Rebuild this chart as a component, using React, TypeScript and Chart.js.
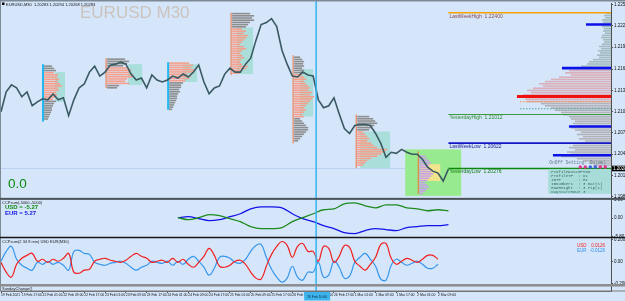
import React, { useEffect, useRef } from "react";
import { Chart, registerables } from "chart.js";

Chart.register(...registerables);

// ---------------- time axis (M30 bars, one label every 16 bars) ----------------
const TIME_LABELS = [
  "19 Feb 2021", "19 Feb 17:00", "22 Feb 01:00", "22 Feb 09:00", "22 Feb 17:00",
  "23 Feb 01:00", "23 Feb 09:00", "23 Feb 17:00", "24 Feb 01:00", "24 Feb 09:00",
  "24 Feb 17:00", "25 Feb 01:00", "25 Feb 09:00", "25 Feb 17:00", "26 Feb 01:00",
  "26 Feb 09:00", "26 Feb 17:00", "1 Mar 01:00", "1 Mar 09:00", "1 Mar 17:00",
  "2 Mar 01:00", "2 Mar 09:00",
];
const BARS_PER_LABEL = 16;
const TOTAL_BARS = 469;
const CURSOR_BAR = 242.3;
const CURSOR_LABEL = "26 Feb 10:00";

// ---------------- EURUSD closes (one every 4 bars) ----------------
const PRICE_STEP_BARS = 4;
const CLOSES = [
  1.2105, 1.2132, 1.21415, 1.21374, 1.21253, 1.2132, 1.21131, 1.21185, 1.21226, 1.21212,
  1.21293, 1.21212, 1.21239, 1.20996, 1.21212, 1.21374, 1.21428, 1.2159, 1.21671, 1.21536,
  1.2159, 1.21685, 1.21698, 1.21725, 1.21698, 1.21563, 1.21482, 1.21509, 1.21374, 1.2155,
  1.21482, 1.21455, 1.21482, 1.21536, 1.21509, 1.21563, 1.21523, 1.2159, 1.21685, 1.21455,
  1.21293, 1.21374, 1.21401, 1.21563, 1.21644, 1.2159, 1.2159, 1.21698, 1.21779, 1.22022,
  1.22238, 1.22265, 1.22319, 1.22211, 1.21887, 1.21698, 1.21536, 1.21523, 1.2159, 1.2155,
  1.21536, 1.21212, 1.21104, 1.21131, 1.21239, 1.21023, 1.2082, 1.20753, 1.20861, 1.20875,
  1.20875, 1.20861, 1.20753, 1.20618, 1.20429, 1.20497, 1.20483, 1.20537, 1.20497, 1.2047,
  1.2047, 1.20402, 1.20294, 1.2024, 1.20213, 1.20105, 1.20267,
];
const PRICE_MIN = 1.19862;
const PRICE_MAX = 1.22522;
const PRICE_TICKS = [
  1.2251, 1.2236, 1.2222, 1.2207, 1.2193, 1.2178, 1.2163, 1.2149, 1.2134, 1.212,
  1.2105, 1.2091, 1.2076, 1.2061, 1.2047, 1.2032, 1.2018, 1.2003, 1.1989,
];
const CURRENT_PRICE = 1.20276;
const CURRENT_LABEL = "1.2028";
const HEADER = "EURUSD,M30  1.20283 1.20294 1.20268 1.20283";

// ---------------- key levels ----------------
const LEVEL_NAMES = ["LastWeekHigh", "YesterdayHigh", "LastWeekLow", "YesterdayLow"];
const LEVEL_PRICES = [1.224, 1.21012, 1.20622, 1.20276];
const LEVEL_START_BAR = 344;

// ---------------- right-hand volume profile (rows of 0.0003) ----------------
const ROW_STEP = 0.0003;
const PROFILE_TOP = 1.2239;
const PROFILE_VOLS = [
  5, 7, 6, 9, 8, 12, 9, 7, 8, 6, 9, 10, 8, 7, 9, 12, 10, 13, 11, 14,
  12, 18, 22, 24, 30, 40, 42, 46, 40, 52, 60, 66, 72, 68, 78, 84, 80, 88, 94, 86,
  84, 70, 66, 60, 56, 50, 48, 42, 40, 36, 38, 34, 40, 36, 30, 34, 28, 32, 26, 30,
  38, 42, 36, 44, 40, 50, 34, 28, 22, 18,
];
const PROFILE_VA = [25, 40];
const PROFILE_POC_PRICE = 1.21257;
const PROFILE_POC_VOL = 94;
const PROFILE_HVN_PRICES = [1.22238, 1.21644, 1.20848, 1.20456];
const PROFILE_HVN_VOLS = [25, 49, 42, 58];
const PROFILE_VAH = 1.21185;
const PROFILE_VAL = 1.2109;
const PROFILE_VA_LINE_VOL = 91;

// ---------------- daily profiles ----------------
const DAY_BARS = [32.3, 80.8, 128.5, 176.9, 224.6, 273.1, 320.8];
const DAY_LINE_TOPS = [1.21698, 1.21779, 1.21725, 1.224, 1.2182, 1.2101, 1.2051];
const DAY_LINE_BOTTOMS = [1.20915, 1.21374, 1.21077, 1.2155, 1.20618, 1.20281, 1.1993];
const DAY_ROW_TOPS = [1.21671, 1.21766, 1.21712, 1.22387, 1.21793, 1.20983, 1.20443];
const DAY_VOLS = [
  [8, 10, 12, 10, 14, 13, 15, 14, 16, 18, 14, 15, 12, 13, 11, 9, 12, 10, 9, 8, 8, 7, 6, 5, 4],
  [18, 22, 20, 16, 20, 24, 22, 26, 25, 20, 18, 22, 12, 10],
  [20, 24, 22, 26, 25, 18, 22, 20, 16, 14, 12, 12, 10, 11, 9, 8, 8, 7, 6, 5, 4, 3],
  [18, 22, 20, 22, 18, 16, 14, 10, 14, 12, 16, 14, 12, 10, 8, 12, 14, 10, 8, 10, 12, 9, 8, 10, 16, 14, 10, 8],
  [6, 8, 10, 9, 10, 8, 10, 9, 8, 10, 12, 10, 12, 14, 16, 14, 18, 16, 20, 18, 16, 14, 12, 10, 12, 10, 8, 10, 6, 8, 10, 12, 14, 14, 12, 10, 8, 6, 4],
  [12, 16, 18, 20, 17, 14, 12, 6, 8, 10, 12, 10, 14, 16, 20, 30, 28, 24, 20, 14, 10, 8, 6],
  [6, 8, 10, 12, 10, 8, 10, 12, 14, 12, 10, 8, 6, 8, 10, 8, 6, 4],
];
const DAY_VA = [[3, 15], [4, 11], [0, 8], [7, 27], [8, 27], [7, 22], [0, 17]];
const DAY_BOX_BARS = [[41.5, 49.2], [97.7, 108.5], [140, 150.8], [181.5, 193.8], [230, 240], [276.2, 299.2], [322.3, 337.7]];
const DAY_BOX_PRICES = [[1.2159, 1.21185], [1.21698, 1.21414], [1.21698, 1.21455], [1.22198, 1.21563], [1.21631, 1.20983], [1.2078, 1.20281], [1.20335, 1.20105]];
const GREEN_BOX_BARS = [310.8, 353.8];
const GREEN_BOX_PRICES = [1.20537, 1.19903];

// ---------------- info panel ----------------
const INFO_BAR = 420.8;
const INFO_TOP = 1.2027;
const INFO_BOTTOM = 1.1993;
const INFO_KEYS = ["ProfileDataTF", "ProfileTF", "IBTF", "IBNumbers", "RowHeight", "DayStartHour"];
const INFO_VALUES = ["M30", "D1", "H1", "3 Bar(s)", "3 Pip(s)", "3"];
const ONOFF_TEXT = "OnOff Setting: On(mm)";

// ---------------- CCP currency strength (one every 8 bars from bar 136) ----------------
const CCP_START_BAR = 136;
const CCP_STEP_BARS = 8;
const CCP_USD = [0.15, -0.46, 0.15, 1.08, 0.77, -0.15, -1.08, -2.62, -3.23, -3.23, -2.92, -1.08, 0.15, 1.38, 2.62, 2.92, 4.46, 4.77, 3.85, 3.23, 4.15, 4.15, 3.23, 2.92, 2.31, 2.62, 2.31];
const CCP_EUR = [0.15, 0.46, -0.15, -0.77, -0.46, 0.46, 1.38, 2.92, 3.54, 3.54, 3.23, 1.38, -0.15, -1.08, -2.31, -3.23, -4.46, -4.77, -3.85, -3.23, -3.54, -3.85, -2.92, -2.62, -2.31, -2.31, -2.0];
const CCP_TICKS = [5.8, 0, -5.8];
const CCP_USD_TEXT = "USD = -5.27";
const CCP_EUR_TEXT = "EUR = 5.27";

// ---------------- oscillator (one every 4 bars) ----------------
const OSC_STEP_BARS = 4;
const OSC_USD = [
  -0.005, -0.095, -0.141, -0.023, 0.032, 0.059, 0.077, 0.005, 0.023, -0.005,
  0.023, 0.005, 0.032, 0.077, -0.095, -0.105, -0.077, -0.068, 0.005, 0.023,
  0.032, 0.014, 0.005, -0.005, 0.014, 0.05, 0.077, 0.05, 0.032, -0.005,
  0.005, 0.014, -0.005, 0.032, -0.005, 0.023, -0.023, -0.05, -0.005, 0.05,
  0.123, 0.059, -0.041, -0.05, -0.032, 0.005, 0.014, -0.023, -0.095, -0.15,
  -0.159, -0.041, 0.068, 0.141, 0.186, 0.15, 0.041, 0.141, 0.168, 0.095,
  0.095, 0.005, 0.141, 0.123, -0.005, 0.05, 0.15, 0.132, 0.005, -0.041,
  -0.077, -0.023, 0.041, 0.159, 0.168, 0.032, -0.023, 0.005, 0.032, 0.014,
  -0.005, 0.023, 0.059, 0.059, 0.023,
];
const OSC_EUR = [
  0.005, 0.095, 0.141, 0.023, -0.032, -0.059, -0.077, -0.005, -0.023, 0.005,
  -0.023, -0.005, -0.032, -0.077, 0.095, 0.105, 0.077, 0.068, -0.005, -0.023,
  -0.032, -0.014, -0.005, 0.005, -0.014, -0.05, -0.077, -0.05, -0.032, 0.005,
  -0.005, -0.014, 0.005, -0.032, 0.005, -0.023, 0.023, 0.05, 0.005, -0.05,
  -0.123, -0.059, 0.041, 0.05, 0.032, -0.005, -0.014, 0.023, 0.095, 0.15,
  0.159, 0.041, -0.068, -0.141, -0.186, -0.15, -0.041, -0.141, -0.168, -0.095,
  -0.095, -0.005, -0.141, -0.123, 0.005, -0.05, -0.15, -0.132, -0.005, 0.041,
  0.077, 0.023, -0.041, -0.159, -0.168, -0.032, 0.023, -0.005, -0.032, -0.014,
  0.005, -0.023, -0.059, -0.059, -0.023,
];
const OSC_TICKS = [0.2, 0, -0.2];
const OSC_LAST_USD = "0.0126";
const OSC_LAST_EUR = "-0.0126";

// ---------------- styles ----------------
const BG = "#d5e6fb";
const SANS = "'Liberation Sans', Arial, sans-serif";
const MONO = "'Liberation Mono', 'DejaVu Sans Mono', monospace";
const VOL_BARS = 1 / 1.3;
const DAY_LINE_COLORS = ["#22b8f0", "#f0703a", "#22b8f0", "#f0703a", "#f0703a", "#f0703a", "#f0703a"];
const DAY_LINE_WIDTHS = [2, 1, 2, 1, 1, 1, 1];
const DAY_VA_COLORS = ["#f5a08c", "#f5a08c", "#f5a08c", "#f5a08c", "#f5a08c", "#f5a08c", "#c6a3e6"];
const DAY_OUT_COLORS = ["#8e8e8e", "#8e8e8e", "#8e8e8e", "#8e8e8e", "#8e8e8e", "#8e8e8e", "#c6a3e6"];
const DAY_BOX_COLORS = ["#a9dedb", "#a9dedb", "#a9dedb", "#a9dedb", "#a9dedb", "#a9dedb", "#f1e48c"];
const LEVEL_COLORS = ["#f5a300", "#3d9b3d", "#1616c8", "#0b870b"];
const LEVEL_WIDTHS = [1.5, 1.2, 1.6, 1.6];
const LEVEL_TEXT_COLORS = ["#8a4a4a", "#2e8b2e", "#1a1a90", "#137a13"];

const hline = (ctx: any, x0: number, x1: number, y: number) => {
  ctx.beginPath();
  ctx.moveTo(x0, y);
  ctx.lineTo(x1, y);
  ctx.stroke();
};
const vline = (ctx: any, x: number, y0: number, y1: number) => {
  ctx.beginPath();
  ctx.moveTo(x, y0);
  ctx.lineTo(x, y1);
  ctx.stroke();
};
const txt = (ctx: any, s: string, x: number, y: number, font: string, color: string, align = "left") => {
  ctx.font = font;
  ctx.fillStyle = color;
  ctx.textAlign = align;
  ctx.textBaseline = "alphabetic";
  ctx.fillText(s, x, y);
};

const overlayPlugin = {
  id: "mt4overlay",
  beforeDraw(chart: any) {
    const { ctx, width, height } = chart;
    ctx.save();
    ctx.fillStyle = BG;
    ctx.fillRect(0, 0, width, height);
    ctx.restore();
  },
  beforeDatasetsDraw(chart: any) {
    const { ctx } = chart;
    const xs = chart.scales.x;
    const ys = chart.scales.yP;
    const X = (v: number) => xs.getPixelForValue(v);
    const Y = (v: number) => ys.getPixelForValue(v);
    ctx.save();
    ctx.beginPath();
    ctx.rect(xs.left, ys.top, xs.right - xs.left, ys.bottom - ys.top);
    ctx.clip();

    // current price line
    ctx.strokeStyle = "#bad2ef";
    ctx.lineWidth = 1;
    hline(ctx, xs.left, xs.right, Math.round(Y(CURRENT_PRICE)) + 0.5);

    // green session box
    ctx.fillStyle = "#98ea8e";
    ctx.fillRect(X(GREEN_BOX_BARS[0]), Y(GREEN_BOX_PRICES[0]), X(GREEN_BOX_BARS[1]) - X(GREEN_BOX_BARS[0]), Y(GREEN_BOX_PRICES[1]) - Y(GREEN_BOX_PRICES[0]));

    // daily profiles
    DAY_BARS.forEach((bar, d) => {
      const bb = DAY_BOX_BARS[d];
      const bp = DAY_BOX_PRICES[d];
      ctx.fillStyle = DAY_BOX_COLORS[d];
      ctx.fillRect(X(bb[0]), Y(bp[0]), X(bb[1]) - X(bb[0]), Y(bp[1]) - Y(bp[0]));
      const x0 = X(bar);
      DAY_VOLS[d].forEach((v, i) => {
        const yy = Y(DAY_ROW_TOPS[d] - i * ROW_STEP);
        const inVA = i >= DAY_VA[d][0] && i <= DAY_VA[d][1];
        ctx.fillStyle = inVA ? DAY_VA_COLORS[d] : DAY_OUT_COLORS[d];
        ctx.fillRect(x0 + 1, yy - 0.8, X(bar + v * VOL_BARS) - x0, 1.6);
      });
      ctx.strokeStyle = DAY_LINE_COLORS[d];
      ctx.lineWidth = DAY_LINE_WIDTHS[d];
      vline(ctx, x0, Y(DAY_LINE_TOPS[d]), Y(DAY_LINE_BOTTOMS[d]));
    });

    // right volume profile
    const xr = xs.right;
    PROFILE_VOLS.forEach((v, i) => {
      const yy = Y(PROFILE_TOP - i * ROW_STEP);
      ctx.fillStyle = i < PROFILE_VA[0] ? "#a2bbc0" : i <= PROFILE_VA[1] ? "#d9b0ba" : "#b2b3b8";
      const xl = X(xs.max - v * VOL_BARS);
      ctx.fillRect(xl, yy - 0.8, xr - xl, 1.6);
    });
    ctx.setLineDash([1.5, 1.5]);
    ctx.lineWidth = 1;
    ctx.strokeStyle = "#f08a30";
    hline(ctx, X(xs.max - PROFILE_VA_LINE_VOL * VOL_BARS), xr, Y(PROFILE_VAH));
    ctx.strokeStyle = "#4fa59c";
    hline(ctx, X(xs.max - PROFILE_VA_LINE_VOL * VOL_BARS), xr, Y(PROFILE_VAL));
    ctx.setLineDash([]);
    ctx.strokeStyle = "#0a12e8";
    ctx.lineWidth = 2.6;
    PROFILE_HVN_PRICES.forEach((p, i) => {
      hline(ctx, X(xs.max - PROFILE_HVN_VOLS[i] * VOL_BARS), xr, Y(p));
    });
    ctx.strokeStyle = "#f01010";
    ctx.lineWidth = 3;
    hline(ctx, X(xs.max - PROFILE_POC_VOL * VOL_BARS), xr, Y(PROFILE_POC_PRICE));

    // key levels
    LEVEL_PRICES.forEach((p, i) => {
      ctx.strokeStyle = LEVEL_COLORS[i];
      ctx.lineWidth = LEVEL_WIDTHS[i];
      hline(ctx, X(LEVEL_START_BAR), xr, Y(p));
    });
    ctx.restore();
  },
  afterDatasetsDraw(chart: any) {
    const { ctx, width } = chart;
    const xs = chart.scales.x;
    const ys = chart.scales.yP;
    const yc = chart.scales.yC;
    const yo = chart.scales.yO;
    const ysun = chart.scales.yS;
    const X = (v: number) => xs.getPixelForValue(v);
    const Y = (v: number) => ys.getPixelForValue(v);
    ctx.save();

    // level labels
    LEVEL_PRICES.forEach((p, i) => {
      txt(ctx, `${LEVEL_NAMES[i]}  ${p.toFixed(5)}`, X(LEVEL_START_BAR) + 1, Y(p) + 5, `5px ${SANS}`, LEVEL_TEXT_COLORS[i]);
    });

    // info panel
    const ix = X(INFO_BAR);
    const it = Y(INFO_TOP);
    const ib = Y(INFO_BOTTOM);
    ctx.fillStyle = "#a7dcd8";
    ctx.fillRect(ix, it, xs.right - ix, ib - it);
    INFO_KEYS.forEach((k, i) => {
      txt(ctx, k, ix + 3, it + 4.5 + i * 3.9, `4px ${MONO}`, "#3d6868");
      txt(ctx, ": " + INFO_VALUES[i], ix + 30, it + 4.5 + i * 3.9, `4px ${MONO}`, "#3d6868");
    });
    txt(ctx, ONOFF_TEXT, ix + 1, it - 5, `4.5px ${MONO}`, "#6a7e8c");
    const dotColors = ["#e2348e", "#e2348e", "#3d5fe0", "#3d5fe0", "#e2348e", "#e2348e"];
    dotColors.forEach((c, i) => {
      ctx.fillStyle = c;
      ctx.beginPath();
      ctx.arc(ix + 32 + i * 5, it - 2, 1.7, 0, Math.PI * 2);
      ctx.fill();
    });

    // watermark and header
    txt(ctx, "EURUSD M30", 80, 18, `17px ${SANS}`, "#cbc4bd");
    ctx.fillStyle = "#000";
    ctx.fillRect(2, 2.5, 2.5, 2.5);
    txt(ctx, HEADER, 6, 5.5, `4px ${SANS}`, "#111");
    txt(ctx, "0.0", 8, 188, `13.5px ${SANS}`, "#0a8a0a");

    // CCP panel texts
    txt(ctx, "CCPsum(-5000.-5000)", 2, yc.top + 5, `4px ${SANS}`, "#222");
    txt(ctx, CCP_USD_TEXT, 5, yc.top + 10, `bold 6px ${SANS}`, "#138a13");
    txt(ctx, CCP_EUR_TEXT, 5, yc.top + 16, `bold 6px ${SANS}`, "#1414e0");

    // oscillator panel texts
    txt(ctx, "CCPsum(2 34 8 min) USD EUR(M30)", 2, yo.top + 5, `4px ${SANS}`, "#222");
    txt(ctx, "USD", 577, yo.top + 9, `4.5px ${SANS}`, "#f02020");
    txt(ctx, OSC_LAST_USD, 605, yo.top + 9, `4.5px ${SANS}`, "#f02020", "right");
    txt(ctx, "EUR", 577, yo.top + 14, `4.5px ${SANS}`, "#2f8fea");
    txt(ctx, OSC_LAST_EUR, 605, yo.top + 14, `4.5px ${SANS}`, "#2f8fea", "right");
    txt(ctx, "SundayChange()", 2, ysun.top + 4.5, `4px ${SANS}`, "#222");

    // cursor line
    const cx = X(CURSOR_BAR);
    ctx.strokeStyle = "#33b5ef";
    ctx.lineWidth = 1.5;
    vline(ctx, cx, 0, xs.top);

    // separators
    ctx.fillStyle = "#7d8a96";
    ctx.fillRect(0, 0, width, 1.5);
    ctx.fillRect(0, 0, 1, xs.top);
    ctx.fillStyle = "#4b5259";
    ctx.fillRect(0, ys.bottom - 1, width, 2);
    ctx.fillStyle = "#161616";
    ctx.fillRect(0, yc.bottom - 0.75, width, 1.5);
    ctx.fillStyle = "#8c8c8c";
    ctx.fillRect(0, yo.bottom - 1, width, 2.5);
    ctx.fillStyle = "#7a7a7a";
    ctx.fillRect(0, ysun.bottom - 0.5, width, 1);

    // current price label
    const cy = Y(CURRENT_PRICE);
    ctx.fillStyle = "#000";
    ctx.fillRect(xs.right + 1, cy - 2.8, width - xs.right - 1, 5.6);
    txt(ctx, CURRENT_LABEL, xs.right + 2, cy + 1.7, `4.5px ${SANS}`, "#fff");

    // cursor time label
    ctx.fillStyle = "#3cb4ee";
    ctx.fillRect(cx - 12, xs.top + 1, 26, 8.5);
    txt(ctx, CURSOR_LABEL, cx + 1, xs.top + 7, `3.4px ${SANS}`, "#0b2a3a", "center");
    ctx.restore();
  },
};

const yAxisBase = (weight: number) => ({
  type: "linear",
  position: "right",
  stack: "panes",
  stackWeight: weight,
  grid: { drawOnChartArea: false, tickLength: 2, color: "#555" },
  border: { display: true, color: "#505050", width: 1 },
  ticks: { font: { size: 4.5, family: "Liberation Sans" }, color: "#111", padding: 1 },
  afterFit: (s: any) => {
    s.width = 14;
  },
});

export default function App() {
  const canvasRef = useRef<HTMLCanvasElement | null>(null);

  useEffect(() => {
    document.body.style.margin = "0";
    const canvas = canvasRef.current;
    if (!canvas) return;

    const priceData = CLOSES.map((c, i) => ({ x: i * PRICE_STEP_BARS, y: c }));
    const ccpUsd = CCP_USD.map((v, i) => ({ x: CCP_START_BAR + i * CCP_STEP_BARS, y: v }));
    const ccpEur = CCP_EUR.map((v, i) => ({ x: CCP_START_BAR + i * CCP_STEP_BARS, y: v }));
    const oscUsd = OSC_USD.map((v, i) => ({ x: i * OSC_STEP_BARS, y: v }));
    const oscEur = OSC_EUR.map((v, i) => ({ x: i * OSC_STEP_BARS, y: v }));

    const chart = new Chart(canvas, {
      type: "line",
      data: {
        datasets: [
          { label: "EURUSD", data: priceData, yAxisID: "yP", borderColor: "#3a5a63", borderWidth: 1.6, pointRadius: 0, tension: 0 },
          { label: "USD", data: ccpUsd, yAxisID: "yC", borderColor: "#1f8a1f", borderWidth: 1.3, pointRadius: 0, cubicInterpolationMode: "monotone" },
          { label: "EUR", data: ccpEur, yAxisID: "yC", borderColor: "#1212e6", borderWidth: 1.3, pointRadius: 0, cubicInterpolationMode: "monotone" },
          { label: "USD osc", data: oscUsd, yAxisID: "yO", borderColor: "#f02020", borderWidth: 1.2, pointRadius: 0, tension: 0.4 },
          { label: "EUR osc", data: oscEur, yAxisID: "yO", borderColor: "#3596ec", borderWidth: 1.2, pointRadius: 0, tension: 0.4 },
        ],
      },
      options: {
        animation: false,
        responsive: false,
        devicePixelRatio: 1,
        events: [],
        layout: { padding: { top: 1, left: 1, right: 0, bottom: 0 }, autoPadding: false },
        plugins: { legend: { display: false }, tooltip: { enabled: false }, title: { display: false } },
        scales: {
          yP: {
            ...yAxisBase(197),
            min: PRICE_MIN,
            max: PRICE_MAX,
            afterBuildTicks: (s: any) => {
              s.ticks = PRICE_TICKS.map((v) => ({ value: v }));
            },
            ticks: { font: { size: 4.5, family: "Liberation Sans" }, color: "#111", padding: 1, callback: (v: any) => Number(v).toFixed(4) },
          },
          yC: {
            ...yAxisBase(39),
            min: -6,
            max: 6,
            afterBuildTicks: (s: any) => {
              s.ticks = CCP_TICKS.map((v) => ({ value: v }));
            },
            ticks: { font: { size: 4.5, family: "Liberation Sans" }, color: "#111", padding: 1, callback: (v: any) => Number(v).toFixed(2) },
          },
          yO: {
            ...yAxisBase(48),
            min: -0.2136,
            max: 0.2227,
            afterBuildTicks: (s: any) => {
              s.ticks = OSC_TICKS.map((v) => ({ value: v }));
            },
            ticks: { font: { size: 4.5, family: "Liberation Sans" }, color: "#111", padding: 1, callback: (v: any) => (Number(v) === 0 ? "0.00" : Number(v).toFixed(4)) },
          },
          yS: {
            ...yAxisBase(6),
            min: 0,
            max: 1,
            grid: { display: false },
            ticks: { display: false },
          },
          x: {
            type: "linear",
            position: "bottom",
            min: 0,
            max: TOTAL_BARS,
            afterBuildTicks: (s: any) => {
              s.ticks = TIME_LABELS.map((_, i) => ({ value: i * BARS_PER_LABEL }));
            },
            grid: { drawOnChartArea: false, tickLength: 2, color: "#555" },
            border: { display: true, color: "#6a6a6a" },
            ticks: {
              autoSkip: false,
              maxRotation: 0,
              minRotation: 0,
              align: "start",
              padding: 0,
              font: { size: 3.4, family: "Liberation Sans" },
              color: "#111",
              callback: (_v: any, i: number) => TIME_LABELS[i] ?? "",
            },
            afterFit: (s: any) => {
              s.height = 10;
            },
          },
        },
      },
      plugins: [overlayPlugin],
    } as any);

    return () => chart.destroy();
  }, []);

  return (
    <div style={{ width: 625, height: 301, background: BG }}>
      <canvas ref={canvasRef} width={625} height={301} style={{ display: "block", width: 625, height: 301 }} />
    </div>
  );
}
